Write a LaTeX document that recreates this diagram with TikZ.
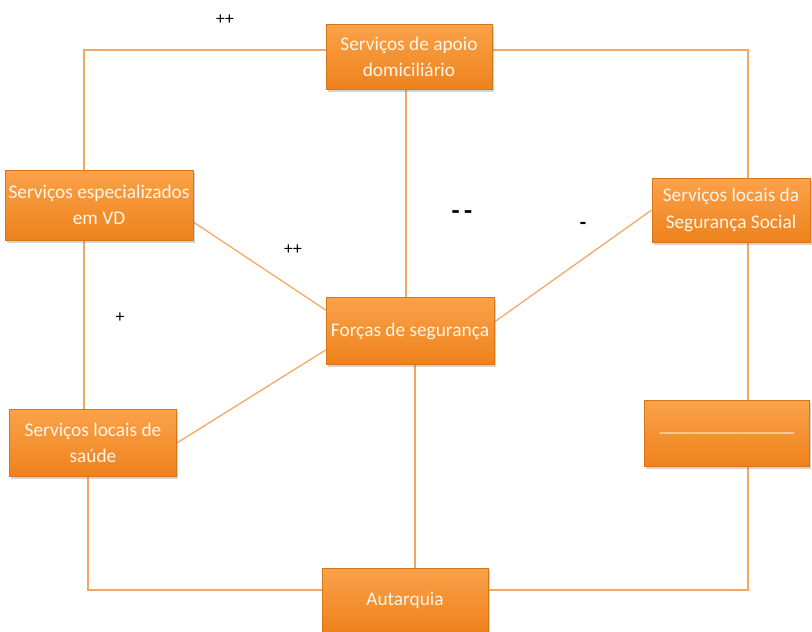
\documentclass[tikz,border=0pt]{standalone}
\usepackage{fontspec}
\setmainfont{Carlito}
\usepackage{tikz}
\usetikzlibrary{shadows}
\usetikzlibrary{backgrounds}
\definecolor{boxtop}{HTML}{FBA24A}
\definecolor{boxbot}{HTML}{EE821C}
\definecolor{boxrim}{HTML}{D8741A}
\definecolor{linkc}{HTML}{F5A661}
\definecolor{boxtxt}{HTML}{FFF6EA}
\tikzstyle{box}=[rectangle, draw=boxrim, thin, top color=boxtop, bottom color=boxbot, text=boxtxt, align=center, font=\fontsize{11}{15}\selectfont, inner sep=2pt, minimum width=3.32cm, minimum height=1.3cm, drop shadow={shadow xshift=1pt, shadow yshift=-1.5pt, opacity=0.35}]
\tikzstyle{link}=[draw=linkc, line width=0.7pt]
\tikzstyle{sign}=[font=\fontsize{10}{12}\selectfont, inner sep=0pt]

\begin{document}
\begin{tikzpicture}[x=0.02cm, y=-0.02cm]
	\useasboundingbox (0,0) rectangle (812,632);
	% corners of the outer frame
	\coordinate (tl) at (84,50);
	\coordinate (tr) at (748,50);
	\coordinate (bl) at (88,590);
	\coordinate (br) at (748,590);
	% boxes
	\draw (409,57) node[box] (apoio) {Serviços de apoio\\domiciliário};
	\draw (99,205) node[box, minimum width=3.74cm, minimum height=1.4cm] (especial) {Serviços especializados\\em VD};
	\draw (731,210) node[box, minimum width=3.16cm, minimum height=1.28cm] (segsocial) {Serviços locais da\\Segurança Social};
	\draw (410,331) node[box, minimum width=3.36cm, minimum height=1.34cm] (forcas) {Forças de segurança};
	\draw (93,443) node[box, minimum width=3.34cm, minimum height=1.34cm] (saude) {Serviços locais de\\saúde};
	\draw (727,433) node[box, minimum width=3.3cm, minimum height=1.32cm] (blank) {\_\_\_\_\_\_\_\_\_\_\_\_\_\_};
	\draw (405,600) node[box, minimum height=1.28cm] (autarquia) {Autarquia};
	% links under the boxes
	\begin{scope}[on background layer]
	\draw[link] (apoio.west |- tl) -- (tl) -- (tl |- especial.north);
	\draw[link] (apoio.east |- tr) -- (tr) -- (tr |- segsocial.north);
	\draw[link] (tl |- especial.south) -- (tl |- saude.north);
	\draw[link] (bl |- saude.south) -- (bl) -- (autarquia.west |- bl);
	\draw[link] (autarquia.east |- br) -- (br) -- (br |- blank.south);
	\draw[link] (br |- blank.north) -- (br |- segsocial.south);
	\draw[link] ([xshift=-0.06cm]apoio.south) -- ([xshift=-0.06cm]apoio.south |- forcas.north);
	\draw[link] ([xshift=0.1cm]forcas.south) -- ([xshift=0.1cm]forcas.south |- autarquia.north);
	\draw[link] ([yshift=-0.34cm]especial.east) -- ([yshift=0.42cm]forcas.west);
	\draw[link] (saude.east) -- ([yshift=-0.38cm]forcas.west);
	\draw[link] ([yshift=0.18cm]forcas.east) -- (segsocial.west);
	\end{scope}
	% signs
	\draw (225,20) node[sign] (s1) {++};
	\draw (293,250) node[sign] (s2) {++};
	\draw (120,318) node[sign] (s3) {+};
	\draw (462,215) node[sign, font=\fontsize{15}{16}\selectfont\bfseries] (s4) {-\,-};
	\draw (583,226) node[sign, font=\fontsize{12}{14}\selectfont\bfseries] (s5) {-};
\end{tikzpicture}
\end{document}
